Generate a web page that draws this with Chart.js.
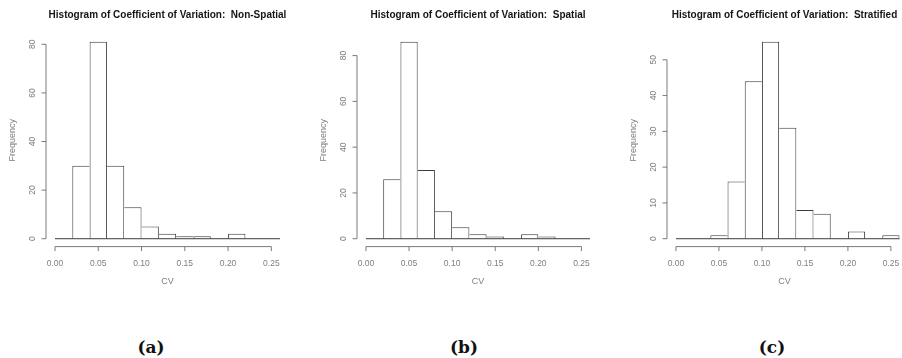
<!DOCTYPE html>
<html>
<head>
<meta charset="utf-8">
<script src="https://cdn.jsdelivr.net/npm/chart.js@4/dist/chart.umd.min.js"></script>
<style>
html,body{margin:0;padding:0;background:#fff;width:902px;height:358px;overflow:hidden;}
canvas{position:absolute;top:0;}
.cap{position:absolute;top:336px;width:60px;margin-left:-30px;text-align:center;font:bold 17px "DejaVu Serif";color:#111;line-height:22px;}
</style>
</head>
<body>
<canvas id="c0" width="289" height="300" style="left:0px"></canvas>
<canvas id="c1" width="288" height="300" style="left:311px"></canvas>
<canvas id="c2" width="281" height="300" style="left:621px"></canvas>
<div class="cap" style="left:151px">(a)</div>
<div class="cap" style="left:464px">(b)</div>
<div class="cap" style="left:772px">(c)</div>
<script>
// ---- data ----
const breaks = [0.00,0.02,0.04,0.06,0.08,0.10,0.12,0.14,0.16,0.18,0.20,0.22,0.24,0.26];
const countsNonSpatial  = [0,30,81,30,13,5,2,1,1,0,2,0,0];
const countsSpatial     = [0,26,86,30,12,5,2,1,0,2,1,0,0];
const countsStratified  = [0,0,1,16,44,55,31,8,7,0,2,0,1];
const xTickValues = [0.00,0.05,0.10,0.15,0.20,0.25];
const xTickLabels = ['0.00','0.05','0.10','0.15','0.20','0.25'];
const yTicksNonSpatial = [0,20,40,60,80];
const yTicksSpatial    = [0,20,40,60,80];
const yTicksStratified = [0,10,20,30,40,50];
const titles = [
  'Histogram of Coefficient of Variation:  Non-Spatial',
  'Histogram of Coefficient of Variation:  Spatial',
  'Histogram of Coefficient of Variation:  Stratified'
];
const xAxisTitle = 'CV';
const yAxisTitle = 'Frequency';

// ---- styling ----
const FONT = 'Liberation Sans';
const BAR_COLOR = '#3c3c3c';
const AXIS_COLOR = '#7a7a7a';
const TEXT_GRAY = '#7e7e7e';

const rAxes = {
  id: 'rAxes',
  afterDraw(chart, args, opts) {
    const {ctx, chartArea, scales: {x, y}} = chart;
    ctx.save();
    ctx.strokeStyle = opts.color;
    ctx.lineWidth = 1;
    ctx.beginPath();
    const ax = chartArea.left;
    const yt = opts.yTicks;
    ctx.moveTo(ax, y.getPixelForValue(yt[0]));
    ctx.lineTo(ax, y.getPixelForValue(yt[yt.length - 1]));
    yt.forEach(v => { const p = y.getPixelForValue(v); ctx.moveTo(ax, p); ctx.lineTo(ax - opts.tick, p); });
    const ay = chartArea.bottom;
    const xt = opts.xTicks;
    ctx.moveTo(x.getPixelForValue(xt[0]), ay);
    ctx.lineTo(x.getPixelForValue(xt[xt.length - 1]), ay);
    xt.forEach(v => { const p = x.getPixelForValue(v); ctx.moveTo(p, ay); ctx.lineTo(p, ay + opts.tick); });
    ctx.stroke();
    ctx.restore();
  }
};

function makeHist(id, title, counts, yTicks, xMax) {
  const yMax = Math.max(...counts);
  const bars = counts.map((c, i) => ({x: (breaks[i] + breaks[i + 1]) / 2, y: c}));
  const baseline = [{x: breaks[0], y: 0}, {x: breaks[breaks.length - 1], y: 0}];
  new Chart(document.getElementById(id), {
    type: 'bar',
    data: {
      datasets: [
        {
          type: 'bar',
          data: bars,
          backgroundColor: '#ffffff',
          borderColor: BAR_COLOR,
          borderSkipped: false,
          inflateAmount: 0,
          barPercentage: 1,
          categoryPercentage: 1,
          borderWidth: (ctx) => {
            const i = ctx.dataIndex;
            const v = counts[i];
            const prev = i > 0 ? counts[i - 1] : 0;
            const next = i < counts.length - 1 ? counts[i + 1] : 0;
            return {top: 1, bottom: 0, left: (v > 0 && v >= prev) ? 1 : 0, right: (v > 0 && v > next) ? 1 : 0};
          },
          order: 1
        },
        {
          type: 'line',
          data: baseline,
          borderColor: BAR_COLOR,
          borderWidth: 1,
          pointRadius: 0,
          fill: false,
          order: 0
        }
      ]
    },
    options: {
      responsive: false,
      animation: false,
      events: [],
      layout: {padding: 0},
      plugins: {
        legend: {display: false},
        tooltip: {enabled: false},
        title: {
          display: true,
          text: title,
          fullSize: false,
          color: '#151515',
          font: {family: FONT, size: 10, weight: 'bold'},
          padding: {top: 9, bottom: 13}
        },
        rAxes: {color: AXIS_COLOR, tick: 4.5, xTicks: xTickValues, yTicks: yTicks}
      },
      scales: {
        x: {
          type: 'linear',
          position: 'bottom',
          offset: false,
          bounds: 'data',
          min: -0.0104,
          max: xMax,
          grid: {display: false, drawTicks: true, tickLength: 11.6, offset: false},
          border: {display: false},
          afterBuildTicks: (s) => { s.ticks = xTickValues.map(v => ({value: v})); },
          afterFit: (s) => { s.height = 53.4; },
          ticks: {
            autoSkip: false,
            maxRotation: 0,
            minRotation: 0,
            padding: 0,
            color: TEXT_GRAY,
            font: {family: FONT, size: 8.5},
            callback: (v, i) => xTickLabels[i]
          },
          title: {
            display: true,
            text: xAxisTitle,
            color: TEXT_GRAY,
            font: {family: FONT, size: 9},
            padding: {top: 0, bottom: 13}
          }
        },
        y: {
          type: 'linear',
          position: 'left',
          bounds: 'data',
          min: -0.04 * yMax,
          max: 1.04 * yMax,
          grid: {display: false, drawTicks: true, tickLength: 9},
          border: {display: false},
          afterBuildTicks: (s) => { s.ticks = yTicks.map(v => ({value: v})); },
          afterFit: (s) => { s.width = 46; },
          ticks: {
            autoSkip: false,
            minRotation: 90,
            maxRotation: 90,
            crossAlign: 'center',
            padding: 0,
            color: TEXT_GRAY,
            font: {family: FONT, size: 8.5},
            callback: (v, i) => String(yTicks[i])
          },
          title: {
            display: true,
            text: yAxisTitle,
            color: TEXT_GRAY,
            font: {family: FONT, size: 9},
            padding: {top: 7.6, bottom: 0}
          }
        }
      }
    },
    plugins: [rAxes]
  });
}

makeHist('c0', titles[0], countsNonSpatial, yTicksNonSpatial, 0.2704);
makeHist('c1', titles[1], countsSpatial, yTicksSpatial, 0.2704);
makeHist('c2', titles[2], countsStratified, yTicksStratified, 0.2629);
</script>
</body>
</html>
